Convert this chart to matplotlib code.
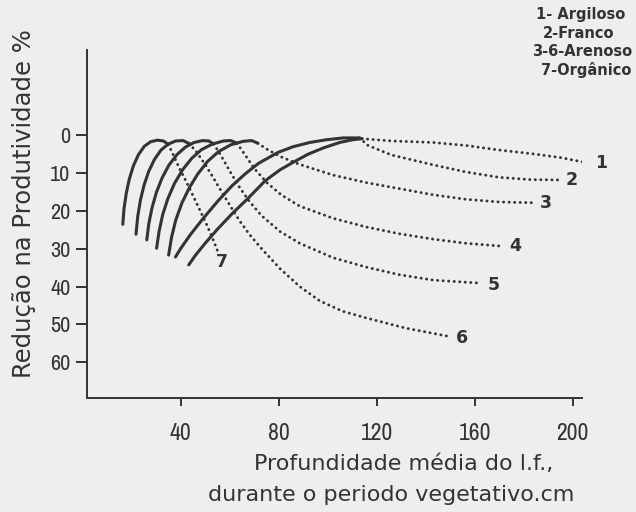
import matplotlib
matplotlib.use("Agg")
import matplotlib.pyplot as plt
from matplotlib import font_manager

# ---------------- data ----------------
x_ticks = [40, 80, 120, 160, 200]
y_ticks = [0, 10, 20, 30, 40, 50, 60]

# solid (rising) parts, curves 1..7
solid1_x = [43.3, 46, 50, 55, 61, 67.7, 74.5, 80.6, 86, 92, 98.4, 104.9, 110, 114]
solid1_y = [34.3, 31.8, 28.6, 24.9, 20.8, 16.6, 12.1, 9.2, 7.2, 5.1, 3.4, 2.0, 1.3, 1.0]
solid2_x = [37.9, 40, 44, 49, 55, 61, 66.5, 71.8, 79.8, 86, 92.7, 99.3, 106.3, 113]
solid2_y = [32.2, 30, 26.3, 22.2, 17.6, 13.4, 10.2, 7.5, 4.6, 3.1, 2.0, 1.3, 0.8, 0.8]
solid3_x = [35.1, 36.3, 38, 40.5, 43.5, 47, 51, 55.5, 60.5, 65.5, 69, 71.5]
solid3_y = [31.7, 27, 22.5, 18, 14, 10.3, 7, 4.4, 2.6, 1.7, 1.5, 2.2]
solid4_x = [30.2, 31.2, 32.7, 34.8, 37.5, 40.8, 44.5, 48.5, 53, 57.5, 60.5, 63]
solid4_y = [29.9, 25.5, 21, 16.8, 12.8, 9.2, 6.2, 3.9, 2.4, 1.6, 1.5, 2.2]
solid5_x = [26.2, 27, 28.3, 30.1, 32.4, 35.2, 38.5, 42, 45.5, 49, 51.5, 53.5]
solid5_y = [27.7, 23.5, 19.3, 15.2, 11.4, 8, 5.2, 3.2, 2, 1.5, 1.6, 2.4]
solid6_x = [21.8, 22.5, 23.6, 25.1, 27, 29.3, 32, 35, 38, 41, 43.5]
solid6_y = [26.2, 21.5, 17.2, 13.2, 9.6, 6.5, 4.0, 2.4, 1.6, 1.5, 2.3]
solid7_x = [16.4, 16.9, 17.8, 19, 20.7, 22.8, 25.2, 27.8, 30.5, 33, 35]
solid7_y = [23.6, 19.5, 15.5, 11.8, 8.2, 5.2, 3.0, 1.8, 1.4, 1.6, 2.5]

# dotted (declining) parts, curves 1..7
tail1_x = [114, 126, 143, 156.5, 170, 183.8, 195, 205.5]
tail1_y = [1.0, 1.6, 2.0, 2.8, 4.0, 5.0, 6.0, 7.3]
tail2_x = [113, 116.5, 126, 143, 156.5, 170, 182.8, 196]
tail2_y = [0.8, 2.8, 5.3, 7.9, 9.8, 11.2, 11.8, 11.9]
tail3_x = [71.5, 75.5, 81, 88.6, 102.2, 115.8, 129.4, 143, 156.5, 170, 183.8]
tail3_y = [2.2, 3.9, 5.8, 7.8, 10.6, 12.6, 14.2, 15.8, 17.0, 17.7, 17.9]
tail4_x = [63, 66, 70, 75, 81, 88.6, 102.2, 115.8, 129.4, 143, 156.5, 170]
tail4_y = [2.2, 5, 8.8, 12.5, 15.8, 18.8, 22, 24.3, 26.1, 27.5, 28.6, 29.3]
tail5_x = [53.5, 56.5, 60, 64, 68, 73, 80.6, 88.6, 102.2, 115.8, 129.4, 143, 162]
tail5_y = [2.4, 5.5, 9.5, 13.8, 17.5, 21.3, 25.5, 28.6, 32.4, 34.9, 36.9, 38.3, 39.1]
tail6_x = [43.5, 46.5, 50, 53.5, 57, 60.5, 64, 68, 73, 80.6, 88.6, 96.8, 106, 115.8, 132, 149.8]
tail6_y = [2.3, 4.5, 7.8, 11.5, 15.3, 19, 22.6, 26.2, 30, 35.3, 40, 43.8, 46.5, 48.3, 51, 53.2]
tail7_x = [35, 36.8, 39.5, 42.2, 44.9, 47.6, 50.5, 53, 55]
tail7_y = [2.5, 5, 8.8, 12.2, 15.8, 19.5, 23.5, 27.2, 30.5]

curve_labels = ["1", "2", "3", "4", "5", "6", "7"]
label_x = [211.4, 199.6, 189.0, 176.7, 167.9, 154.9, 56.7]
label_y = [7.4, 11.9, 18.0, 29.3, 39.5, 53.5, 33.5]

legend_lines = ["1- Argiloso", "2-Franco", "3-6-Arenoso", "7-Orgânico"]

# ---------------- styling ----------------
BG = "#efeded"
INK = "#333333"

plt.rcParams["font.family"] = ["DejaVu Sans"]

entries = font_manager.fontManager.ttflist
narrow_family = None
for f in entries:
    if "Narrow" in f.name or "Condensed" in f.name:
        narrow_family = f.name
        break
cond = [f for f in entries if f.name == "DejaVu Sans" and f.stretch == "condensed"]
if narrow_family is not None:
    tick_font = dict(fontfamily=narrow_family)
elif cond:
    tick_font = dict(fontfamily="DejaVu Sans", fontstretch="condensed")
else:
    tick_font = dict(fontfamily="DejaVu Sans")

fig = plt.figure(figsize=(6.36, 5.12), dpi=100, facecolor=BG)
ax = fig.add_axes([0.1368, 0.2227, 0.778, 0.6797])
ax.set_facecolor(BG)

solids = [(solid1_x, solid1_y), (solid2_x, solid2_y), (solid3_x, solid3_y),
          (solid4_x, solid4_y), (solid5_x, solid5_y), (solid6_x, solid6_y),
          (solid7_x, solid7_y)]
tails = [(tail1_x, tail1_y), (tail2_x, tail2_y), (tail3_x, tail3_y),
         (tail4_x, tail4_y), (tail5_x, tail5_y), (tail6_x, tail6_y),
         (tail7_x, tail7_y)]

for (sx, sy) in solids:
    ax.plot(sx, sy, color=INK, lw=2.2, solid_capstyle="round", solid_joinstyle="round")
for (tx, ty) in tails:
    ax.plot(tx, ty, color=INK, lw=2.1, linestyle=(0, (0.05, 1.85)),
            dash_capstyle="round")

for lab, lx, ly in zip(curve_labels, label_x, label_y):
    ax.text(lx, ly, lab, ha="center", va="center", fontsize=12.5,
            fontweight="bold", color=INK, clip_on=False)

ax.set_xlim(1.8, 203.7)
ax.set_ylim(69.4, -22.4)

for s in ["top", "right"]:
    ax.spines[s].set_visible(False)
for s in ["left", "bottom"]:
    ax.spines[s].set_color(INK)
    ax.spines[s].set_linewidth(1.4)

ax.set_xticks(x_ticks)
ax.set_xticklabels([str(v) for v in x_ticks], fontsize=17, **tick_font)
ax.set_yticks(y_ticks)
ax.set_yticklabels([str(v) for v in y_ticks], fontsize=16, **tick_font)
ax.tick_params(axis="x", direction="out", length=6, width=1.4, colors=INK, pad=12)
ax.tick_params(axis="y", direction="out", length=8, width=1.4, colors=INK, pad=4)

fig.text(24 / 636, 1 - 204 / 512, "Redução na Produtividade %", rotation=90,
         ha="center", va="center", fontsize=17.5, color=INK)
fig.text(404 / 636, 1 - 464 / 512, "Profundidade média do l.f.,",
         ha="center", va="center", fontsize=16, color=INK)
fig.text(391 / 636, 1 - 495 / 512, "durante o periodo vegetativo.cm",
         ha="center", va="center", fontsize=16, color=INK)

legend_left = [536, 543, 532, 541]
legend_y = [15, 33, 52, 70]
for txt, lx, ly in zip(legend_lines, legend_left, legend_y):
    fig.text(lx / 636, 1 - ly / 512, txt, ha="left", va="center",
             fontsize=10.5, fontweight="bold", color=INK)

fig.savefig("out.png", dpi=100, facecolor=BG)
